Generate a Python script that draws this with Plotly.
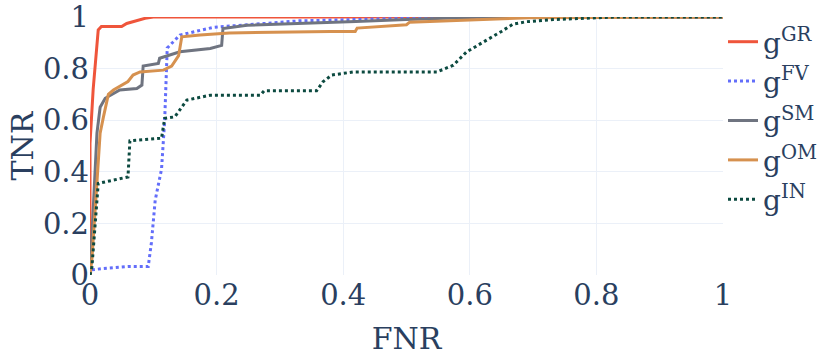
import plotly.graph_objects as go

# ROC-like curves: FNR (x) vs TNR (y)
gr_x = [0, 0.0, 0.005, 0.008, 0.013, 0.018, 0.05, 0.058, 0.066, 0.087, 0.1, 0.3, 1.0]
gr_y = [0, 0.51, 0.72, 0.81, 0.95, 0.963, 0.963, 0.975, 0.98, 0.995, 1.0, 1.0, 1.0]

fv_x = [0.003, 0.02, 0.06, 0.092, 0.097, 0.103, 0.113, 0.118, 0.122, 0.142, 0.195, 0.25, 0.33, 0.45, 0.6, 1.0]
fv_y = [0.02, 0.025, 0.033, 0.033, 0.125, 0.29, 0.41, 0.60, 0.88, 0.93, 0.96, 0.97, 0.985, 0.992, 1.0, 1.0]

sm_x = [0, 0.003, 0.011, 0.016, 0.024, 0.047, 0.074, 0.082, 0.084, 0.108, 0.11, 0.142, 0.19, 0.208,
        0.21, 0.248, 0.33, 0.42, 0.5, 0.62, 1.0]
sm_y = [0, 0.16, 0.55, 0.65, 0.685, 0.717, 0.723, 0.736, 0.81, 0.82, 0.84, 0.865, 0.878, 0.89,
        0.955, 0.968, 0.974, 0.983, 0.99, 1.0, 1.0]

om_x = [0, 0.003, 0.011, 0.016, 0.021, 0.029, 0.037, 0.05, 0.06, 0.068, 0.079, 0.116, 0.129, 0.14,
        0.145, 0.174, 0.22, 0.38, 0.419, 0.422, 0.50, 0.505, 0.63, 0.695, 1.0]
om_y = [0, 0.06, 0.36, 0.55, 0.61, 0.70, 0.717, 0.736, 0.75, 0.775, 0.787, 0.794, 0.81, 0.85,
        0.923, 0.93, 0.938, 0.944, 0.944, 0.957, 0.97, 0.98, 0.99, 0.997, 1.0]

in_x = [0, 0.003, 0.013, 0.06, 0.063, 0.113, 0.118, 0.134, 0.153, 0.19, 0.269, 0.275, 0.358, 0.368,
        0.382, 0.416, 0.548, 0.574, 0.595, 0.627, 0.65, 0.668, 0.69, 0.732, 0.795, 0.83, 1.0]
in_y = [0, 0.03, 0.355, 0.38, 0.52, 0.53, 0.607, 0.613, 0.678, 0.697, 0.697, 0.714, 0.714, 0.749,
        0.775, 0.787, 0.787, 0.813, 0.865, 0.91, 0.944, 0.972, 0.982, 0.99, 0.995, 1.0, 1.0]

series = [
    ("g<sup>GR</sup>", gr_x, gr_y, "#EF553B", "solid"),
    ("g<sup>FV</sup>", fv_x, fv_y, "#636EFA", "dot"),
    ("g<sup>SM</sup>", sm_x, sm_y, "#6F7480", "solid"),
    ("g<sup>OM</sup>", om_x, om_y, "#D6914F", "solid"),
    ("g<sup>IN</sup>", in_x, in_y, "#0C4A40", "dot"),
]

ticks = [0, 0.2, 0.4, 0.6, 0.8, 1]
tick_text = ["0", "0.2", "0.4", "0.6", "0.8", "1"]

fig = go.Figure()
for name, x, y, color, dash in series:
    fig.add_trace(go.Scatter(x=x, y=y, mode="lines", name=name,
                             line=dict(color=color, width=3, dash=dash)))

fig.update_layout(
    template="plotly_white",
    width=831, height=356,
    margin=dict(l=90, r=108, t=17, b=81, autoexpand=False),
    font=dict(family="DejaVu Serif", size=29, color="#2a3f5f"),
    legend=dict(x=1.0, y=1.0, xanchor="left", yanchor="top",
                font=dict(size=28), tracegroupgap=0),
    xaxis=dict(title=dict(text="FNR", font=dict(size=30), standoff=17),
               range=[0, 1], tickvals=ticks, ticktext=tick_text,
               zeroline=False, automargin=False, ticklabeloverflow="allow"),
    yaxis=dict(title=dict(text="TNR", font=dict(size=30), standoff=0),
               range=[0, 1], tickvals=ticks, ticktext=tick_text,
               zeroline=False, automargin=False, ticklabeloverflow="allow"),
)

# drop the page's default body margin so the figure sits at the window corner
fig.write_html("out.html", config={"displayModeBar": False},
               post_script="document.body.style.margin = '0px';")
